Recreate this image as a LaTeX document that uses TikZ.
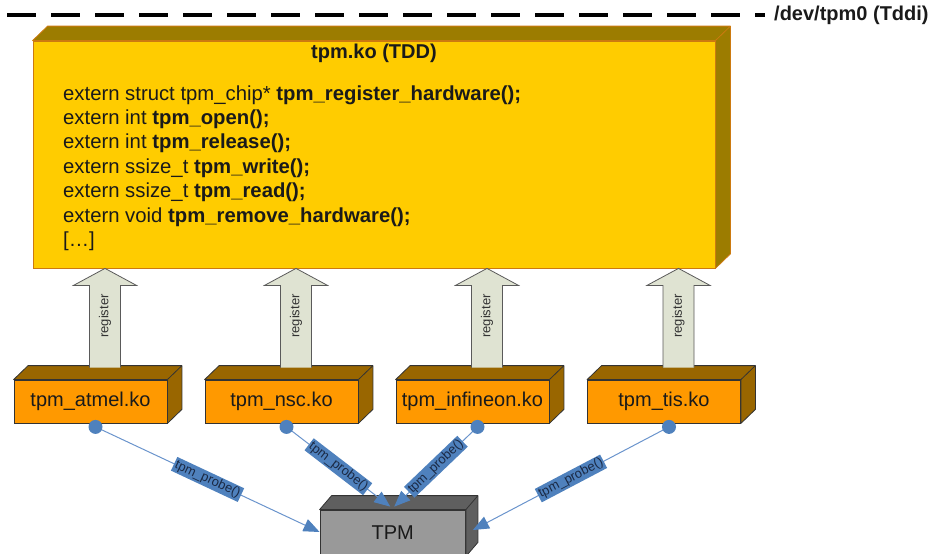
\documentclass[tikz,border=0pt]{standalone}
\usepackage{fontspec}
\setmainfont{Liberation Sans}
\usetikzlibrary{calc,arrows.meta}

\definecolor{tddfront}{HTML}{FFCC00}
\definecolor{tdddepth}{HTML}{9C7C00}
\definecolor{tddedge}{HTML}{CC7A10}
\definecolor{modfront}{HTML}{FF9900}
\definecolor{moddepth}{HTML}{996600}
\definecolor{chipfront}{HTML}{999999}
\definecolor{chipdepth}{HTML}{5F5F5F}
\definecolor{edgegrey}{HTML}{333333}
\definecolor{regfill}{HTML}{DFE3D2}
\definecolor{regedge}{HTML}{5A5A5A}
\definecolor{probeblue}{HTML}{4F81BD}
\definecolor{probeline}{HTML}{6A94CC}
\definecolor{probetext}{HTML}{1B2A45}
\definecolor{inktext}{HTML}{1A1A1A}

% top and right faces of a box whose front face is the node #1
\newcommand\boxdepth[5]{%
  \filldraw[fill=#4, draw=#5, line width=0.8pt, line join=round]
    (#1.north west) -- ++(#2,-#3) -- ($(#1.north east)+(#2,-#3)$)
    -- ($(#1.south east)+(#2,-#3)$) -- (#1.south east) -- (#1.north east) -- cycle;
  \draw[#5, line width=0.8pt] (#1.north east) -- ++(#2,-#3);
}

\tikzset{
  bigtext/.style={font=\fontsize{20.3}{24}\selectfont, text=inktext, inner sep=0pt},
  tddbox/.style={rectangle, fill=tddfront, draw=tddedge, line width=0.8pt,
    minimum width=682pt, minimum height=227pt, inner sep=0pt},
  modbox/.style={rectangle, fill=modfront, draw=edgegrey, line width=0.8pt,
    minimum width=153pt, minimum height=43pt, inner sep=0pt,
    font=\fontsize{20}{24}\selectfont, text=inktext},
  chipbox/.style={rectangle, fill=chipfront, draw=edgegrey, line width=0.8pt,
    minimum width=145.5pt, minimum height=46pt, inner sep=0pt,
    font=\fontsize{20}{24}\selectfont, text=inktext},
  regarrow/.style={fill=regfill, draw=regedge, line width=0.8pt, line join=miter},
  reglabel/.style={rotate=90, font=\fontsize{13}{13}\selectfont, text=black!80, inner sep=0pt},
  probedot/.style={circle, fill=probeblue, minimum size=14pt, inner sep=0pt},
  probe/.style={draw=probeline, line width=1pt,
    -{Triangle[length=16pt, width=13pt, color=probeblue]}},
  plabel/.style={midway, sloped, fill=probeblue, text=probetext, inner sep=1.5pt,
    font=\fontsize{13}{13}\selectfont},
  devline/.style={line width=4pt, dash pattern=on 29pt off 15pt},
}

\begin{document}
\begin{tikzpicture}[x=1pt, y=-1pt]
\useasboundingbox (0,0) rectangle (932,554);

% device node marker
\node[bigtext, font=\fontsize{20}{24}\bfseries, anchor=west] (dev) at (774,15) {/dev/tpm0 (Tddi)};
\coordinate (dstart) at (7,15);
\coordinate (dend) at (765,15);
\draw[devline] (dstart) -- (dend);

% TPM device driver core
\node[tddbox] (tdd) at (374,154.5) {};
\boxdepth{tdd}{15}{14.5}{tdddepth}{tddedge}
\node[bigtext, font=\fontsize{20}{24}\bfseries] (title) at (374,53) {tpm.ko (TDD)};
\node[bigtext, anchor=base west] (api1) at (63,100.0) {extern struct tpm\_chip* \textbf{tpm\_register\_hardware();}};
\node[bigtext, anchor=base west] (api2) at (63,124.4) {extern int \textbf{tpm\_open();}};
\node[bigtext, anchor=base west] (api3) at (63,148.8) {extern int \textbf{tpm\_release();}};
\node[bigtext, anchor=base west] (api4) at (63,173.2) {extern ssize\_t \textbf{tpm\_write();}};
\node[bigtext, anchor=base west] (api5) at (63,197.6) {extern ssize\_t \textbf{tpm\_read();}};
\node[bigtext, anchor=base west] (api6) at (63,222.0) {extern void \textbf{tpm\_remove\_hardware();}};
\node[bigtext, anchor=base west] (api7) at (63,246.4) {[…]};

% chip specific driver modules
\node[modbox] (atmel)    at (90.5,401.5)  {tpm\_atmel.ko};
\node[modbox] (nsc)      at (281.5,401.5) {tpm\_nsc.ko};
\node[modbox] (infineon) at (472.5,401.5) {tpm\_infineon.ko};
\node[modbox] (tis)      at (664,401.5)   {tpm\_tis.ko};
\foreach \m in {atmel,nsc,infineon,tis}{\boxdepth{\m}{14.5}{14}{moddepth}{edgegrey}}

% the chip itself
\node[chipbox] (tpm) at (392.75,533) {TPM};
\boxdepth{tpm}{12}{14}{chipdepth}{edgegrey}

% registration arrows into the core
\foreach \m in {atmel,nsc,infineon,tis}{
  \coordinate (\m-base) at ($(\m.north)+(14.5,-12)$);
  \coordinate (\m-tip) at (\m-base |- tdd.south);
  \filldraw[regarrow] ($(\m-base)+(-15.5,0)$) -- ($(\m-tip)+(-15.5,17)$)
    -- ($(\m-tip)+(-31.5,17)$) -- (\m-tip) -- ($(\m-tip)+(31.5,17)$)
    -- ($(\m-tip)+(15.5,17)$) -- ($(\m-base)+(15.5,0)$);
  \node[reglabel] (\m-reg) at ($(\m-base)!0.5!(\m-tip)+(0,-2)$) {register};
}

% probe calls down to the chip
\coordinate (atmel-hit)    at ($(tpm.west)+(0,-1)$);
\coordinate (nsc-hit)      at ($(tpm.north)+(-2.5,-3)$);
\coordinate (infineon-hit) at ($(tpm.north)+(1.5,-3)$);
\coordinate (tis-hit)      at ($(tpm.east)+(7,-3)$);
\foreach \m in {atmel,nsc,infineon,tis}{
  \coordinate (\m-src) at ($(\m.south)+(5,3.5)$);
  \draw[probe] (\m-src) -- (\m-hit) node[plabel] (\m-call) {tpm\_probe()};
  \node[probedot] (\m-dot) at (\m-src) {};
}
\end{tikzpicture}
\end{document}
